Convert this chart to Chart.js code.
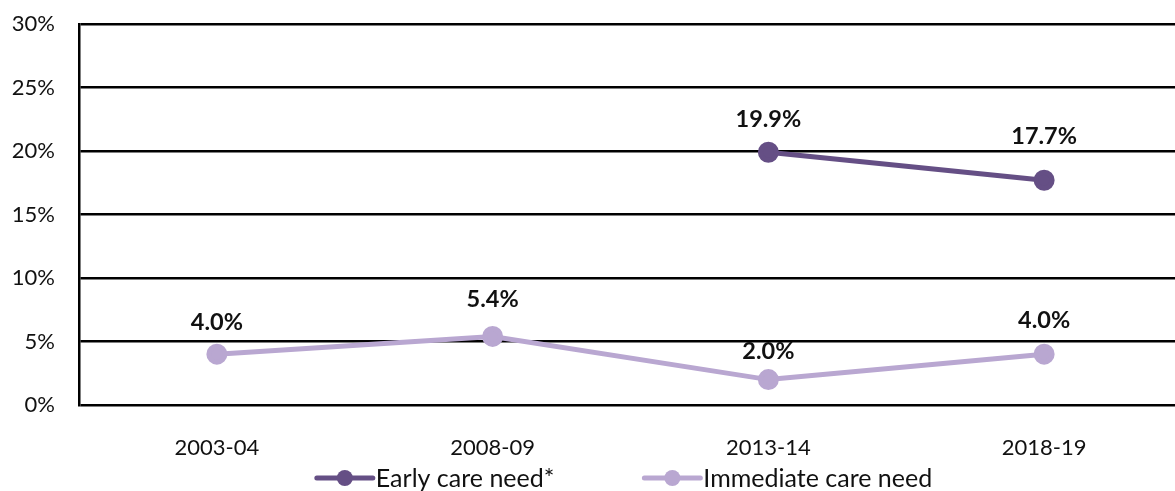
<!DOCTYPE html>
<html>
<head>
<meta charset="utf-8">
<script src="https://cdn.jsdelivr.net/npm/chart.js@4/dist/chart.umd.min.js"></script>
<style>
  html, body { margin: 0; padding: 0; background: #fff; overflow: hidden; }
  .wrap { width: 1195px; height: 491px; }
</style>
</head>
<body>
<div class="wrap"><canvas id="careChart"></canvas></div>
<script>
// Data
const years = ["2003-04", "2008-09", "2013-14", "2018-19"];
const earlyCare = [null, null, 19.9, 17.7];
const immediateCare = [4.0, 5.4, 2.0, 4.0];
const yTicks = [0, 5, 10, 15, 20, 25, 30];

const darkPurple = "#654f85";
const lightPurple = "#b9a7d1";
const fontFamily = "Lato, 'Open Sans', sans-serif";

// value labels above each point (labelLift = px above the dot, as placed in the original)
const pointLabels = {
  id: "pointLabels",
  afterDatasetsDraw(chart) {
    const c = chart.ctx;
    c.save();
    c.font = "bold 23.5px " + fontFamily;
    c.fillStyle = "#111";
    c.textAlign = "center";
    c.textBaseline = "middle";
    chart.data.datasets.forEach((ds, i) => {
      chart.getDatasetMeta(i).data.forEach((pt, j) => {
        const v = ds.data[j];
        if (v == null) return;
        const lift = ds.labelLift ? ds.labelLift[j] : 35;
        c.fillText(v.toFixed(1) + "%", pt.x, pt.y - lift);
      });
    });
    c.restore();
  }
};

// legend: line with a dot, like the original
const lineLegend = {
  id: "lineLegend",
  afterDraw(chart) {
    const c = chart.ctx;
    const area = chart.chartArea;
    c.save();
    c.font = "25px " + fontFamily;
    c.textBaseline = "middle";
    const items = chart.data.datasets.map(ds => ({
      text: ds.label, color: ds.borderColor, w: c.measureText(ds.label).width
    }));
    const lineW = 56, gap = 3, between = 90;
    let total = 0;
    items.forEach((it, i) => { total += lineW + gap + it.w + (i ? between : 0); });
    let x = (area.left + area.right) / 2 - total / 2 - 6;
    const y = 478;
    items.forEach(it => {
      c.strokeStyle = it.color;
      c.lineWidth = 5;
      c.lineCap = "round";
      c.beginPath();
      c.moveTo(x, y);
      c.lineTo(x + lineW, y);
      c.stroke();
      c.fillStyle = it.color;
      c.beginPath();
      c.arc(x + lineW / 2, y, 8, 0, Math.PI * 2);
      c.fill();
      c.fillStyle = "#111";
      c.fillText(it.text, x + lineW + gap, y + 1);
      x += lineW + gap + it.w + between;
    });
    c.restore();
  }
};

new Chart(document.getElementById("careChart"), {
  type: "line",
  data: {
    labels: years,
    datasets: [
      {
        label: "Early care need*",
        data: earlyCare,
        labelLift: [35, 35, 33, 44],
        borderColor: darkPurple,
        backgroundColor: darkPurple,
        borderWidth: 5,
        pointRadius: 8,
        pointHoverRadius: 8,
        spanGaps: false
      },
      {
        label: "Immediate care need",
        data: immediateCare,
        labelLift: [32, 37, 28, 34],
        borderColor: lightPurple,
        backgroundColor: lightPurple,
        borderWidth: 5,
        pointRadius: 8,
        pointHoverRadius: 8
      }
    ]
  },
  options: {
    responsive: true,
    maintainAspectRatio: false,
    animation: false,
    layout: { padding: { top: 24, right: 7, bottom: 36, left: 0 } },
    plugins: {
      legend: { display: false },
      tooltip: { enabled: false }
    },
    scales: {
      x: {
        offset: true,
        grid: { display: false },
        border: { display: false },
        ticks: { color: "#111", font: { family: fontFamily, size: 22 }, padding: 22 },
        afterFit(scale) { scale.height = 50; }
      },
      y: {
        min: 0,
        max: 30,
        afterBuildTicks(scale) { scale.ticks = yTicks.map(v => ({ value: v })); },
        grid: { color: "#000", lineWidth: 2.5, drawTicks: false },
        border: { color: "#000", width: 2.5 },
        ticks: {
          color: "#111",
          font: { family: fontFamily, size: 22 },
          padding: 24,
          callback: v => v + "%"
        },
        afterFit(scale) {
          scale.width = 79;
          scale.paddingTop = 0;
          scale.paddingBottom = 0;
        }
      }
    }
  },
  plugins: [pointLabels, lineLegend]
});
</script>
</body>
</html>
